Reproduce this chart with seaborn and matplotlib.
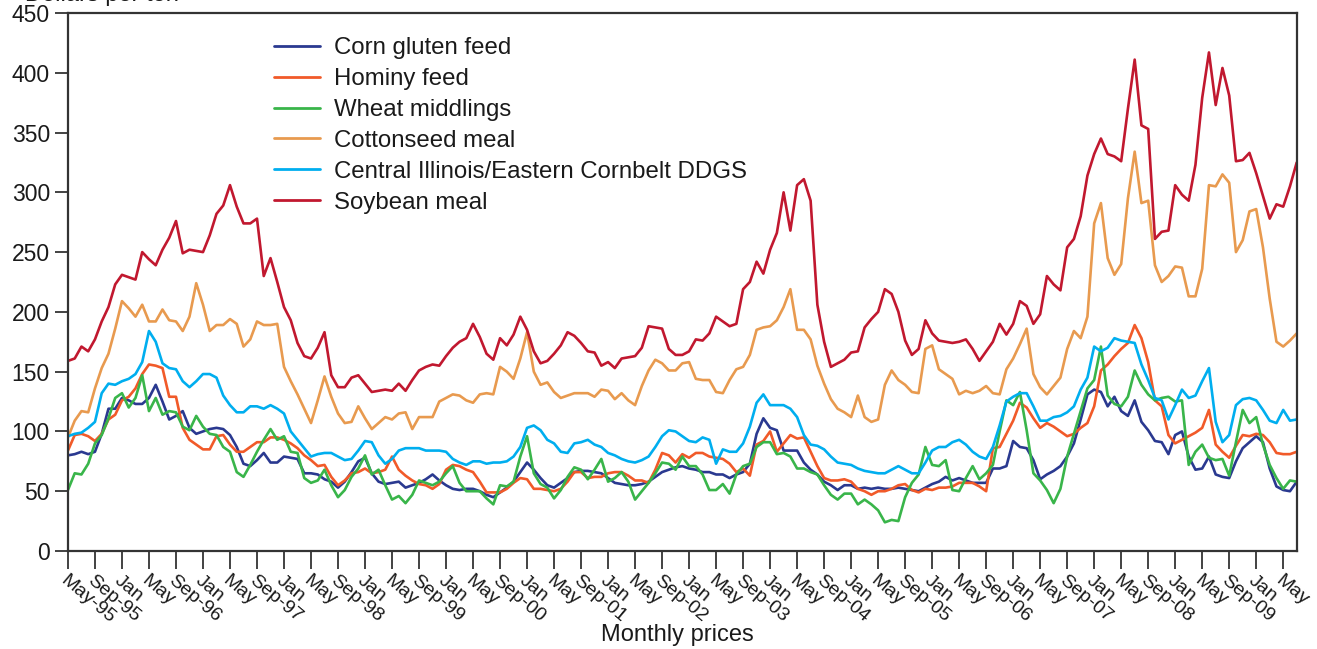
import numpy as np
import pandas as pd
import matplotlib
matplotlib.use("Agg")
import matplotlib.pyplot as plt
import seaborn as sns

# Monthly prices, May 1995 through July 2010 (dollars per ton)
corn_gluten_feed = [
    80, 81, 83, 81, 83, 98, 119, 119, 128, 126, 123, 123, 128, 139, 125, 110, 113, 117, 103, 98,
    100, 102, 103, 102, 97, 87, 73, 71, 76, 82, 74, 74, 79, 78, 77, 65, 65,
    64, 60, 58, 53, 58, 66, 75, 78, 65, 58, 56, 57, 58, 53, 55, 57, 60, 64, 59, 55, 52, 51, 52,
    52, 50, 47, 45, 49, 53, 58, 66, 74, 68, 61, 55, 53, 57,
    61, 66, 67, 67, 66, 65, 61, 57, 56, 55, 55, 56, 58, 62, 66, 68, 70, 71, 69, 68, 66, 66, 64,
    64, 61, 64, 66, 73, 98, 111, 103, 101, 84, 84, 84, 74,
    68, 64, 58, 55, 51, 55, 55, 52, 53, 52, 53, 52, 52, 53, 52, 51, 50, 53, 56, 58, 62, 59, 61,
    59, 57, 57, 57, 69, 69, 71, 92, 87, 86, 76, 60, 64, 67,
    71, 79, 90, 110, 131, 135, 133, 121, 129, 117, 113, 126, 108, 101, 92, 91, 81, 97, 100, 79,
    68, 69, 79, 64, 62, 61, 75, 86, 91, 96, 91, 69, 54, 51, 50, 58,
]
hominy_feed = [
    84, 97, 98, 96, 92, 98, 110, 114, 126, 129, 136, 148, 156, 155, 153, 129, 129, 103, 93, 89,
    85, 85, 96, 97, 89, 83, 83, 87, 91, 91, 95, 95, 93, 90, 86, 80, 76,
    71, 72, 62, 55, 59, 65, 66, 69, 65, 66, 68, 79, 68, 63, 59, 56, 55, 52, 56, 68, 72, 71, 68,
    66, 58, 49, 49, 49, 52, 57, 61, 60, 52, 52, 51, 50, 52,
    58, 66, 66, 61, 62, 62, 65, 66, 66, 63, 59, 59, 57, 68, 82, 80, 74, 81, 78, 82, 82, 79, 78,
    77, 73, 66, 69, 63, 89, 92, 100, 83, 90, 97, 94, 95,
    83, 71, 61, 59, 59, 60, 58, 52, 50, 47, 50, 50, 52, 55, 56, 51, 49, 52, 51, 53, 53, 54, 57,
    57, 57, 54, 50, 86, 87, 98, 109, 124, 120, 111, 103, 107, 104,
    100, 96, 98, 103, 107, 121, 151, 156, 163, 169, 174, 189, 178, 158, 126, 121, 97, 90, 93, 96,
    99, 103, 118, 89, 83, 78, 88, 97, 96, 98, 97, 91, 82, 81, 81, 83,
]
wheat_middlings = [
    51, 65, 64, 73, 90, 97, 111, 128, 132, 120, 128, 147, 117, 128, 114, 117, 116, 104, 101, 113,
    104, 98, 97, 87, 83, 66, 62, 72, 83, 93, 102, 93, 96, 83, 82, 61, 57,
    59, 68, 55, 45, 51, 62, 69, 80, 64, 68, 55, 43, 46, 40, 47, 59, 57, 55, 58, 65, 71, 57, 50,
    50, 50, 44, 39, 55, 54, 58, 79, 96, 65, 56, 53, 44, 51,
    62, 70, 68, 60, 68, 77, 58, 61, 66, 58, 43, 50, 57, 65, 74, 73, 68, 79, 71, 71, 64, 51, 51,
    56, 48, 64, 71, 73, 87, 91, 91, 81, 82, 79, 69, 69,
    66, 64, 55, 47, 43, 48, 48, 39, 43, 39, 34, 24, 26, 25, 45, 57, 64, 87, 72, 71, 76, 51, 50,
    61, 71, 60, 65, 72, 100, 126, 122, 133, 101, 65, 59, 51, 40,
    52, 79, 98, 117, 136, 143, 171, 130, 123, 121, 129, 151, 139, 131, 126, 128, 129, 125, 126, 72,
    83, 89, 78, 76, 77, 63, 91, 118, 107, 112, 89, 72, 61, 52, 59, 58,
]
cottonseed_meal = [
    95, 109, 117, 116, 136, 153, 165, 186, 209, 203, 196, 206, 192, 192, 202, 193, 192, 184, 196, 224,
    206, 184, 189, 189, 194, 190, 171, 177, 192, 189, 189, 190, 154, 142, 131, 119,
    107, 126, 146, 129, 115, 107, 108, 121, 111, 102, 107, 112, 110, 115, 116, 102, 112, 112, 112,
    125, 128, 131, 130, 126, 124, 131, 132, 131, 154, 150, 144, 161, 183, 150, 139, 141, 133, 128,
    130, 132, 132, 132, 129, 135, 134, 127, 132, 126, 122, 138, 151, 160, 157, 151, 151, 157, 158,
    144, 143, 143, 133, 132, 143, 152, 154, 164, 185, 187, 188, 193, 204, 219, 185, 185,
    177, 155, 140, 127, 119, 116, 112, 130, 112, 108, 110, 139, 151, 143, 139, 133, 132, 169, 172,
    152, 148, 144, 131, 134, 132, 134, 138, 132, 131, 152,
    161, 173, 186, 148, 137, 131, 138, 145, 169, 184, 178, 196, 274, 291, 245, 231, 240, 295, 334,
    291, 293, 239, 225, 230, 238, 237, 213, 213, 236, 306, 305, 315, 308, 250, 260, 284, 286, 254,
    211, 175, 171, 176, 182,
]
ddgs = [
    96, 98, 99, 103, 108, 132, 140, 139, 142, 144, 148, 158, 184, 175, 157, 153, 152, 142, 137, 142,
    148, 148, 145, 130, 122, 116, 116, 121, 121, 119, 122, 119, 115, 100, 93, 86, 79,
    81, 82, 82, 79, 76, 77, 84, 92, 91, 80, 73, 77, 84, 86, 86, 86, 84, 84, 84, 83, 77, 74, 72,
    75, 75, 73, 74, 74, 75, 79, 87, 103, 105, 101, 93, 90, 83,
    82, 90, 91, 93, 89, 87, 82, 80, 77, 75, 74, 76, 79, 87, 96, 101, 100, 96, 92, 91, 95, 93, 73,
    85, 83, 83, 90, 104, 124, 131, 122, 122, 122, 119, 112, 97,
    89, 88, 85, 79, 74, 73, 72, 69, 67, 66, 65, 65, 68, 71, 68, 65, 65, 74, 84, 87, 87, 91, 93,
    89, 83, 79, 77, 87, 105, 125, 129, 132, 132, 121, 109, 109, 112,
    113, 116, 121, 135, 145, 171, 167, 170, 178, 176, 175, 174, 156, 143, 128, 126, 110, 122, 135,
    128, 130, 142, 153, 108, 91, 97, 122, 127, 128, 126, 118, 109, 107, 118, 109, 110,
]
soybean_meal = [
    159, 161, 171, 167, 177, 192, 204, 223, 231, 229, 227, 250, 244, 239, 252, 262, 276, 249, 252, 251,
    250, 264, 282, 289, 306, 288, 274, 274, 278, 230, 245, 225, 204, 193, 174, 163,
    161, 170, 183, 147, 137, 137, 145, 147, 140, 133, 134, 135, 134, 140, 134, 143, 151, 154, 156,
    155, 163, 170, 175, 178, 190, 179, 165, 160, 178, 172, 181, 196, 185, 167, 157, 159, 165, 172,
    183, 180, 174, 167, 166, 155, 158, 153, 161, 162, 163, 170, 188, 187, 186, 169, 164, 164,
    167, 177, 176, 182, 196, 192, 188, 190, 219, 225, 242, 232, 252, 266, 300, 268, 306, 311, 293,
    206, 175, 154, 157, 160, 166, 167, 187, 194, 200, 219, 215, 200, 176, 164, 169, 193, 182, 176,
    175, 174, 175, 177, 169, 159, 167, 175, 190, 181,
    190, 209, 205, 190, 198, 230, 223, 218, 254, 261, 280, 314, 332, 345, 332, 330, 326, 370, 411,
    356, 353, 261, 267, 268, 306, 298, 293, 323, 379, 417, 373, 404, 381, 326, 327, 333, 316, 297,
    278, 290, 288, 305, 325,
]

series_names = [
    "Corn gluten feed",
    "Hominy feed",
    "Wheat middlings",
    "Cottonseed meal",
    "Central Illinois/Eastern Cornbelt DDGS",
    "Soybean meal",
]
series_values = [corn_gluten_feed, hominy_feed, wheat_middlings, cottonseed_meal, ddgs, soybean_meal]
series_colors = ["#2a3990", "#f15a29", "#39b54a", "#e89a4f", "#00aeef", "#c1182f"]

# Tick labels every four months
tick_labels = ["May-95", "Sep-95"]
for yr in range(96, 110):
    tick_labels += ["Jan", "May", "Sep-%02d" % (yr % 100)]
tick_labels += ["Jan", "May"]

n_months = len(soybean_meal)
month_index = np.arange(n_months)

frames = []
for name, vals in zip(series_names, series_values):
    frames.append(pd.DataFrame({"month": month_index[: len(vals)], "price": vals, "series": name}))
df = pd.concat(frames, ignore_index=True)

sns.set_theme(style="white")
plt.rcParams["font.family"] = ["Liberation Sans", "DejaVu Sans"]

fig = plt.figure(figsize=(13.17, 6.49), dpi=100)
ax = fig.add_axes([0.0516, 0.151, 0.933, 0.829])

sns.lineplot(
    data=df, x="month", y="price", hue="series", hue_order=series_names,
    palette=dict(zip(series_names, series_colors)), linewidth=1.9, ax=ax,
)

ax.set_xlim(0, n_months - 1)
ax.set_ylim(0, 450)
ax.set_yticks(np.arange(0, 451, 50))
ax.set_xticks(np.arange(0, len(tick_labels) * 4, 4))
ax.set_xticklabels(tick_labels, rotation=-40, ha="left", va="top", rotation_mode="anchor")
ax.tick_params(axis="y", labelsize=16.5, length=9.5, width=1.2, direction="out", left=True, colors="#222222")
ax.tick_params(axis="x", labelsize=14, length=13, width=1.2, direction="out", bottom=True, colors="#222222", pad=2)
for lab in ax.get_yticklabels() + ax.get_xticklabels():
    lab.set_color("#1a1a1a")

for side in ["left", "right", "top", "bottom"]:
    ax.spines[side].set_visible(True)
    ax.spines[side].set_color("#333333")
    ax.spines[side].set_linewidth(1.6)

ax.set_xlabel("")
ax.set_ylabel("")
fig.text(0.514, 1 - 635 / 649, "Monthly prices", fontsize=17, color="#1a1a1a", ha="center", va="center")

leg = ax.legend(
    loc="upper left", bbox_to_anchor=(0.168, 0.955), frameon=False, fontsize=17.3,
    handlelength=1.9, handletextpad=0.6, labelspacing=0.37, borderpad=0, borderaxespad=0,
)
for line in leg.get_lines():
    line.set_linewidth(2.0)
for txt in leg.get_texts():
    txt.set_color("#1a1a1a")

fig.text(0.019, 1 - 0.5 / 649, "Dollars per ton", fontsize=17, color="#1a1a1a", ha="left", va="baseline")

fig.savefig("out.png", dpi=100)
